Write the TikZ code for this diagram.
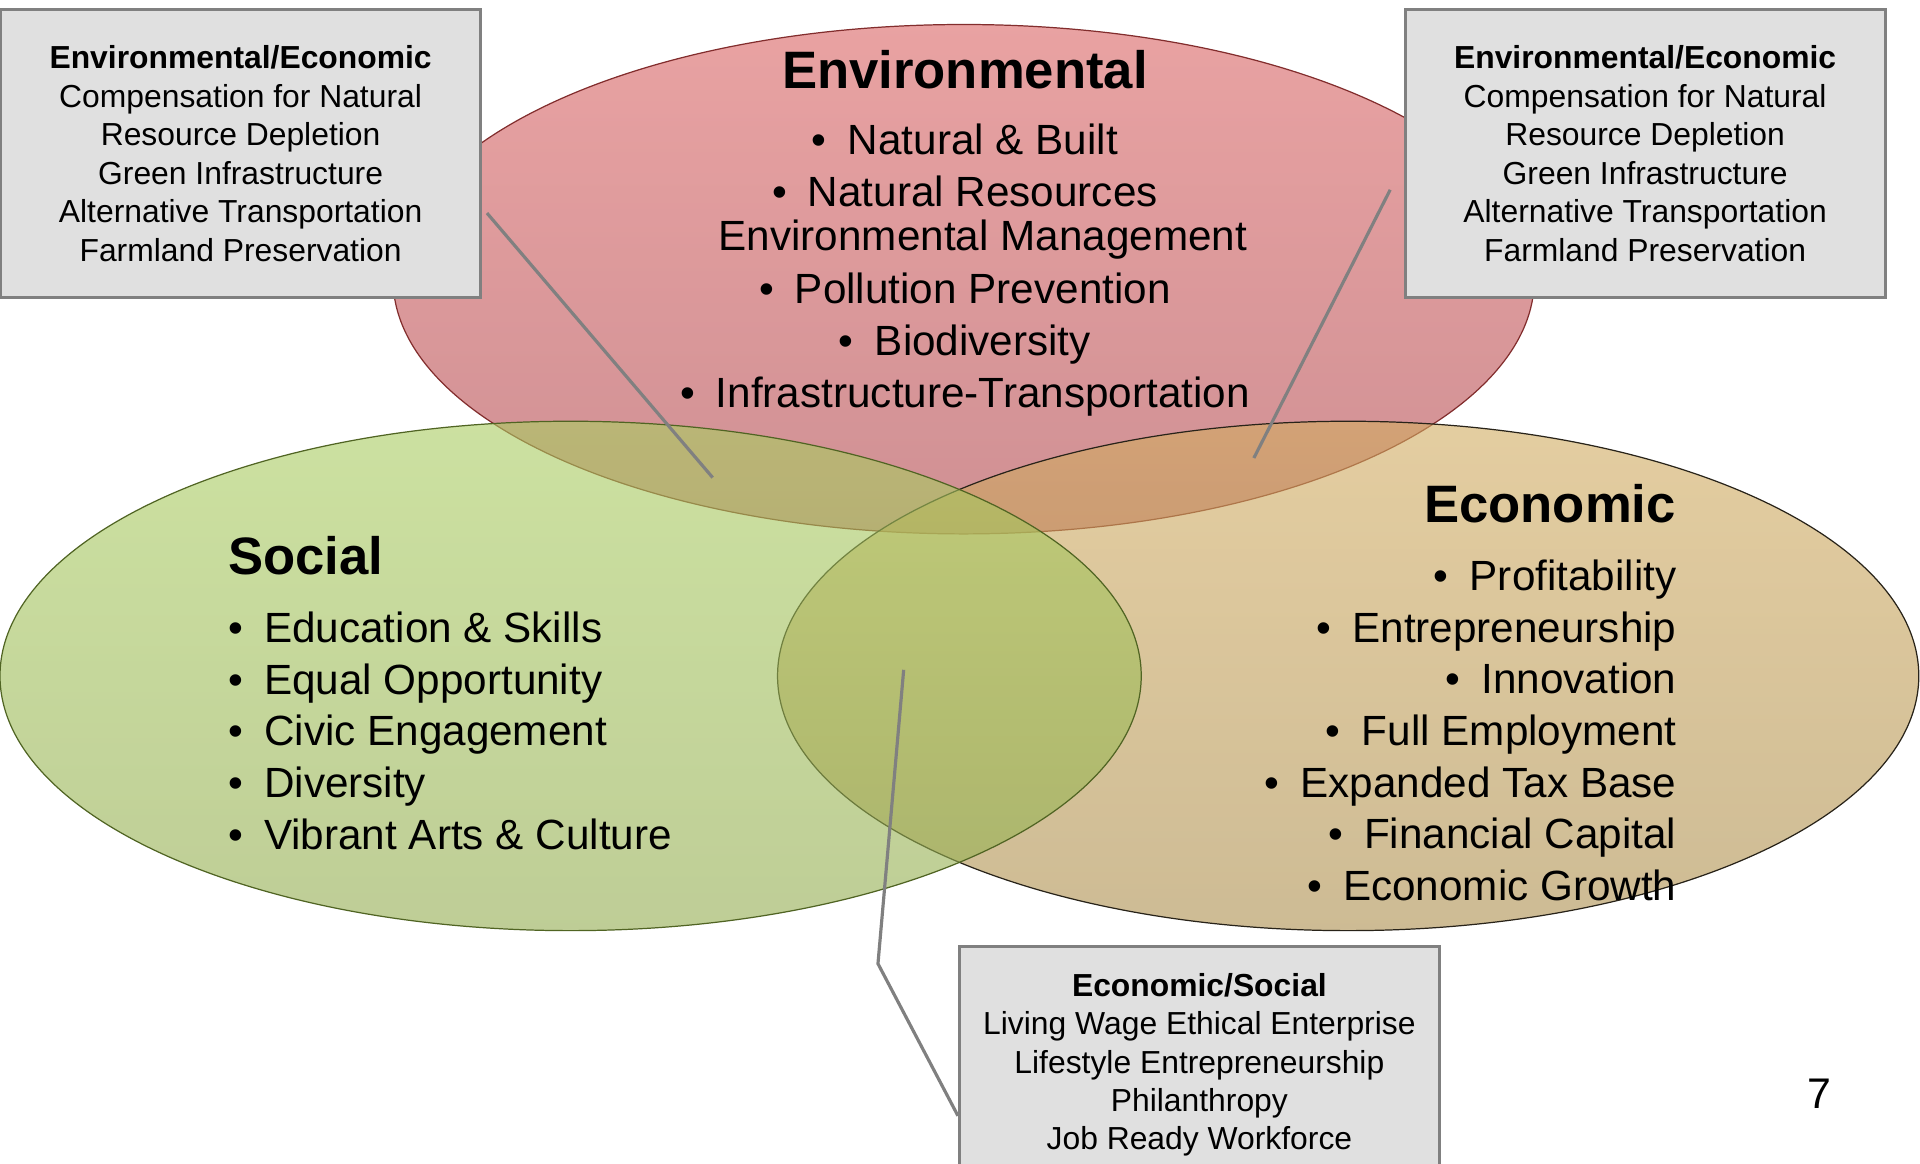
\documentclass[tikz,border=0pt]{standalone}
\usepackage{fontspec}
\setmainfont{Liberation Sans}
\definecolor{envtop}{RGB}{218,100,100}
\definecolor{envbot}{RGB}{175,70,76}
\definecolor{envline}{RGB}{130,45,45}
\definecolor{soctop}{RGB}{170,205,97}
\definecolor{socbot}{RGB}{147,172,80}
\definecolor{socline}{RGB}{80,100,35}
\definecolor{ecotop}{RGB}{210,172,97}
\definecolor{ecobot}{RGB}{172,142,77}
\definecolor{ecoline}{RGB}{40,35,25}
\definecolor{boxfill}{RGB}{224,224,224}
\definecolor{boxline}{RGB}{128,128,128}
\newcommand{\itembul}{\textbullet\hspace{0.5em}}

\begin{document}
\begin{tikzpicture}[x=0.5pt, y=-0.5pt,
		blob/.style={fill opacity=0.6, line width=0.5pt},
		infobox/.style={draw=boxline, fill=boxfill, line width=1.2pt, align=center, inner sep=0pt,
			font=\fontsize{13}{15.7}\selectfont, minimum width=196pt, minimum height=117.5pt},
		leader/.style={draw=boxline, line width=1.3pt},
		heading/.style={font=\fontsize{21.5}{25}\selectfont\bfseries, inner sep=0pt},
		items/.style={font=\fontsize{17.25}{21.1}\selectfont, inner sep=0pt}]
		\useasboundingbox (0, 0) rectangle (1568, 950);
		
		\shade[blob, top color=envtop, bottom color=envbot, draw=envline] (787, 228) ellipse [x radius=233pt, y radius=104pt];
		\shade[blob, top color=ecotop, bottom color=ecobot, draw=ecoline] (1101, 552) ellipse [x radius=233pt, y radius=104pt];
		\shade[blob, top color=soctop, bottom color=socbot, draw=socline] (466, 552) ellipse [x radius=233pt, y radius=104pt];
		
		\node[heading, anchor=base] (envtitle) at (788, 72.5) {Environmental};
		\node[items, align=center, anchor=base] (envlist) at (788, 332.4) {\itembul Natural \& Built\\ \itembul Natural Resources\\[-3pt] \hphantom{\itembul}Environmental Management\\[0.5pt] \itembul Pollution Prevention\\ \itembul Biodiversity\\ \itembul Infrastructure-Transportation};
		
		\node[heading, anchor=base west] (soctitle) at (186, 469.5) {Social};
		\node[items, align=left, anchor=base west] (soclist) at (186, 693.4) {\itembul Education \& Skills\\ \itembul Equal Opportunity\\ \itembul Civic Engagement\\ \itembul Diversity\\ \itembul Vibrant Arts \& Culture};
		
		\node[heading, anchor=base east] (ecotitle) at (1369, 426.5) {Economic};
		\node[items, align=right, anchor=base east] (ecolist) at (1369.5, 735.4) {\itembul Profitability\\ \itembul Entrepreneurship\\ \itembul Innovation\\ \itembul Full Employment\\ \itembul Expanded Tax Base\\ \itembul Financial Capital\\ \itembul Economic Growth};
		
		\node[infobox] (leftbox) at (196.5, 125.5) {\textbf{Environmental/Economic}\\ Compensation for Natural\\ Resource Depletion\\ Green Infrastructure\\ Alternative Transportation\\ Farmland Preservation};
		\node[infobox] (rightbox) at (1343.5, 125.5) {\textbf{Environmental/Economic}\\ Compensation for Natural\\ Resource Depletion\\ Green Infrastructure\\ Alternative Transportation\\ Farmland Preservation};
		\node[infobox, anchor=north, minimum height=96.4pt] (bottombox) at (979.5, 772) {\textbf{Economic/Social}\\ Living Wage Ethical Enterprise\\ Lifestyle Entrepreneurship\\ Philanthropy\\ Job Ready Workforce};
		
		\coordinate (envsoc) at (582, 390);
		\coordinate (enveco) at (1024, 374);
		\coordinate (triple) at (738, 547);
		\coordinate (bend) at (717, 787);
		
		\draw[leader] ([xshift=2pt, yshift=-24.25pt]leftbox.east) -- (envsoc);
		\draw[leader] ([xshift=-5.5pt, yshift=-14.75pt]rightbox.west) -- (enveco);
		\draw[leader] (triple) -- (bend) -- ([yshift=-20.8pt]bottombox.west);
		
		\node[font=\fontsize{17.5}{20}\selectfont, inner sep=0pt, anchor=base] (pagenum) at (1486, 905.6) {7};
	\end{tikzpicture}
\end{document}
